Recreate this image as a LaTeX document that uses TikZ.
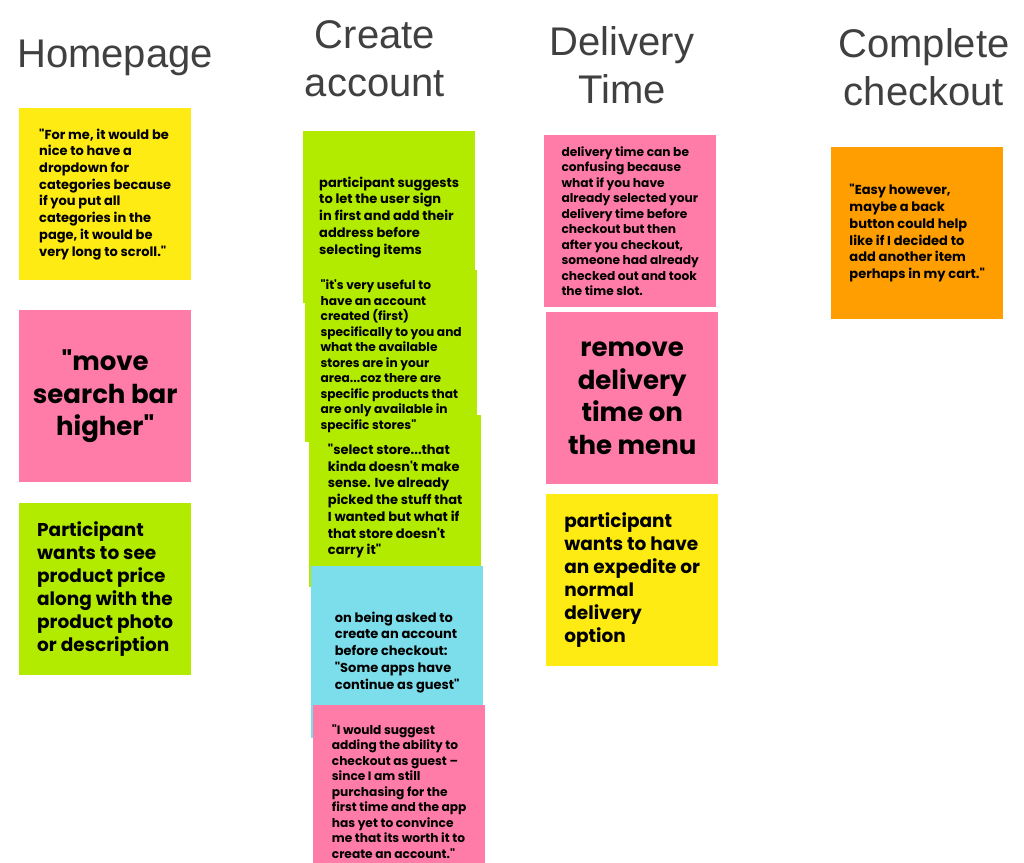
\documentclass[tikz,border=0pt]{standalone}
\usepackage{fontspec}
\setmainfont{Liberation Sans}
\newfontfamily\notefont{Poppins}
\usepackage{tikz}
\usetikzlibrary{positioning}
\definecolor{titlegrey}{RGB}{64, 64, 64}
\definecolor{noteyellow}{RGB}{255, 235, 20}
\definecolor{notepink}{RGB}{255, 124, 168}
\definecolor{notegreen}{RGB}{178, 234, 0}
\definecolor{notecyan}{RGB}{124, 222, 235}
\definecolor{noteorange}{RGB}{255, 158, 0}
\tikzset{
  heading/.style={font=\fontsize{40}{48}\selectfont, text=titlegrey, align=center, anchor=base, inner sep=0pt},
  note/.style={anchor=north west, minimum width=172pt, minimum height=172pt, inner sep=0pt, align=left, font=\notefont\bfseries\fontsize{13}{16.7}\selectfont},
  smallnote/.style={note, font=\notefont\bfseries\fontsize{12.2}{15.5}\selectfont},
  bignote/.style={note, font=\notefont\bfseries\fontsize{26}{32.5}\selectfont, align=center},
  midnote/.style={note, font=\notefont\bfseries\fontsize{18.5}{23}\selectfont}
}

\begin{document}
\begin{tikzpicture}[x=1pt, y=-1pt]
  \useasboundingbox[fill=white] (0,0) rectangle (1024,862);
  \clip (0,0) rectangle (1024,862);

  % Column headings
  \node[heading] (homehead) at (115, 67) {Homepage};
  \node[heading] (createhead) at (375, 96) {Create\\account};
  \node[heading] (delivhead) at (622, 103) {Delivery\\Time};
  \node[heading] (checkhead) at (924, 105) {Complete\\checkout};

  % Homepage
  \node[note, fill=noteyellow] (home1) at (19, 108) {"For me, it would be\\nice to have a\\dropdown for\\categories because\\if you put all\\categories in the\\page, it would be\\very long to scroll."};
  \node[bignote, fill=notepink] (home2) at (19, 310) {"move\\search bar\\higher"};
  \node[midnote, fill=notegreen] (home3) at (19, 503) {Participant\\wants to see\\product price\\along with the\\product photo\\or description};

  % Create account (overlapping notes)
  \node[note, fill=notegreen] (acct1) at (303, 131) {participant suggests\\to let the user sign\\in first and add their\\address before\\selecting items};
  \node[note, fill=notegreen] (acct3) at (309, 415) {"select store...that\\kinda doesn't make\\sense. Ive already\\picked the stuff that\\I wanted but what if\\that store doesn't\\carry it"};
  \node[smallnote, fill=notegreen] (acct2) at (305, 270) {"it's very useful to\\have an account\\created (first)\\specifically to you and\\what the available\\stores are in your\\area...coz there are\\specific products that\\are only available in\\specific stores"};
  \node[note, fill=notecyan] (acct4) at (311, 566) {on being asked to\\create an account\\before checkout:\\"Some apps have\\continue as guest"};
  \node[smallnote, fill=notepink] (acct5) at (313, 705) {"I would suggest\\adding the ability to\\checkout as guest –\\since I am still\\purchasing for the\\first time and the app\\has yet to convince\\me that its worth it to\\create an account."};

  % Delivery Time
  \node[smallnote, fill=notepink] (deliv1) at (544, 135) {delivery time can be\\confusing because\\what if you have\\already selected your\\delivery time before\\checkout but then\\after you checkout,\\someone had already\\checked out and took\\the time slot.};
  \node[bignote, fill=notepink] (deliv2) at (546, 312) {remove\\delivery\\time on\\the menu};
  \node[midnote, fill=noteyellow] (deliv3) at (546, 494) {participant\\wants to have\\an expedite or\\normal\\delivery\\option};

  % Complete checkout
  \node[note, fill=noteorange] (check1) at (831, 147) {"Easy however,\\maybe a back\\button could help\\like if I decided to\\add another item\\perhaps in my cart."};
\end{tikzpicture}
\end{document}
